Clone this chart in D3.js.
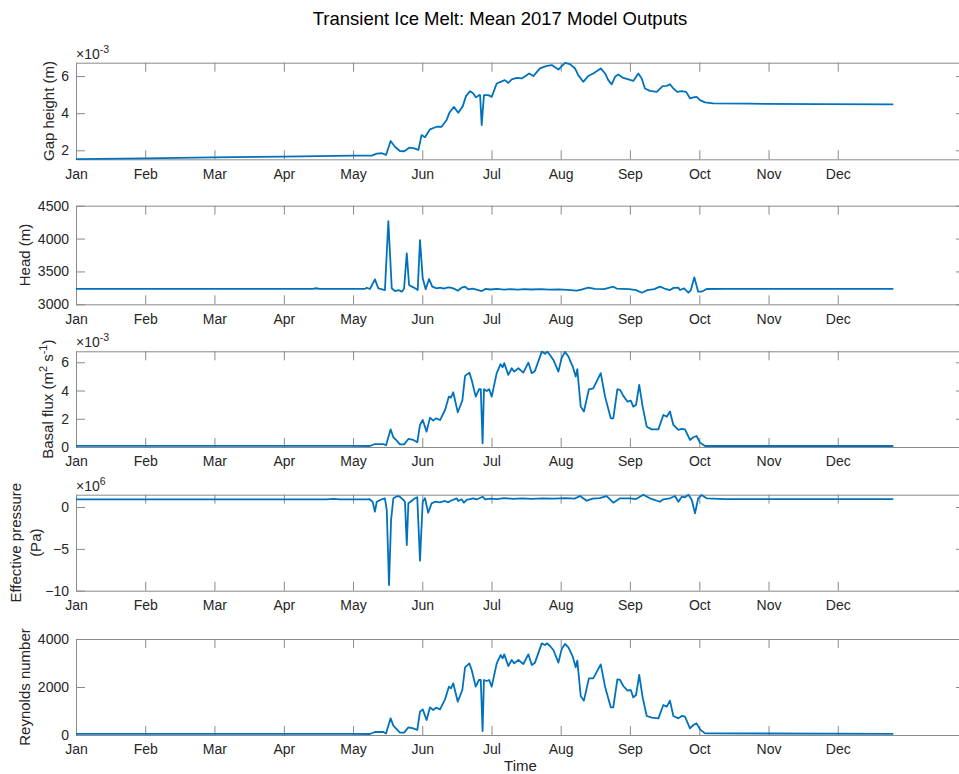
<!DOCTYPE html>
<html>
<head>
<meta charset="utf-8">
<script src="https://cdn.jsdelivr.net/npm/d3@7"></script>
<style>
  body { margin: 0; background: #fff; }
  svg { display: block; }
  text { font-family: "Liberation Sans", Arial, Helvetica, sans-serif; fill: #262626; }
</style>
</head>
<body>
<svg id="fig" width="959" height="774"></svg>
<script>
// Month tick labels and their positions (day of year)
const monthLabels = ["Jan", "Feb", "Mar", "Apr", "May", "Jun", "Jul", "Aug", "Sep", "Oct", "Nov", "Dec"];
const monthTickDays = [0, 30.4, 60.8, 91.3, 121.7, 152.1, 182.5, 212.9, 243.3, 273.8, 304.2, 334.6];

// Gap height (x 1e-3 m)
const gapDays = [0, 30, 60, 91, 121.7, 129.9, 132.1, 134.3, 136.2, 138.2, 140.1, 142.3, 144.2, 146.4, 148.2, 150.4,
  151.8, 153.3, 155.5, 158.4, 160.6, 162.8, 164.0, 166.0, 167.9, 169.9, 171.3, 173.1, 174.5, 175.7, 177.0, 177.5,
  178.2, 179.2, 181.1, 182.6, 184.8, 186.5, 188.4, 189.9, 191.4, 193.6, 195.8, 199.1, 200.9, 203.8, 206.8, 209.0,
  211.9, 214.8, 217.0, 219.2, 220.6, 222.8, 225.0, 227.2, 230.5, 232.4, 233.8, 235.3, 236.8, 238.2, 240.4, 242.6,
  244.8, 247.0, 248.5, 249.9, 252.1, 255.1, 257.7, 259.5, 260.9, 262.4, 264.1, 266.1, 268.0, 269.7, 271.2, 272.6,
  274.1, 276.3, 279.9, 296, 326.8, 359];
const gapValues = [1.52, 1.57, 1.62, 1.66, 1.71, 1.71, 1.82, 1.84, 1.75, 2.50, 2.19, 1.96, 1.95, 2.14, 2.12, 2.02,
  2.82, 2.70, 3.13, 3.27, 3.27, 3.63, 4.02, 4.34, 4.02, 4.38, 4.92, 5.19, 5.06, 4.85, 4.97, 4.97,
  3.36, 4.97, 4.97, 4.88, 5.60, 5.69, 5.78, 5.63, 5.82, 5.90, 5.87, 6.14, 6.00, 6.41, 6.55, 6.59,
  6.35, 6.71, 6.64, 6.41, 6.05, 5.69, 6.00, 6.14, 6.41, 6.14, 5.78, 5.55, 5.96, 6.09, 5.90, 5.82,
  5.74, 6.14, 5.87, 5.33, 5.20, 5.15, 5.46, 5.47, 5.56, 5.33, 5.15, 5.19, 5.15, 4.80, 4.85, 4.88,
  4.70, 4.58, 4.53, 4.51, 4.49, 4.47];

// Head (m)
const headDays = [0, 104, 105.5, 107, 127, 127.7, 129.1, 131.3, 132.8, 135.7, 137.2, 138.7, 140.1, 141.6, 143.1, 144.1,
  145.3, 146.3, 148.2, 150.1, 151.1, 152.3, 153.6, 155.1, 156.5, 158.4, 160, 161.5, 163.5, 165, 166.5, 167.7,
  169.4, 170.9, 172.3, 174, 176, 178.2, 180, 182, 185, 188, 191, 194, 197, 200, 204, 208, 212, 216, 219.9,
  222, 225, 228, 232, 236, 237.5, 240, 243, 246, 248.5, 251, 254, 256.5, 258.5, 260.9, 262.5, 264.6, 265.3,
  267.1, 269, 270.1, 271.6, 273.3, 274.8, 277, 285, 359];
const headValues = [3235, 3235, 3244, 3235, 3235, 3252, 3233, 3380, 3243, 3217, 4266, 3243, 3202, 3217, 3192, 3237,
  3775, 3293, 3258, 3217, 3977, 3395, 3228, 3385, 3268, 3243, 3255, 3240, 3258, 3250, 3230, 3207,
  3252, 3268, 3228, 3240, 3222, 3202, 3235, 3225, 3235, 3222, 3232, 3222, 3230, 3225, 3230, 3222, 3228, 3220, 3207,
  3225, 3252, 3235, 3230, 3268, 3240, 3235, 3230, 3215, 3176, 3215, 3232, 3268, 3240, 3217, 3250, 3252, 3217,
  3243, 3176, 3217, 3410, 3192, 3192, 3233, 3235, 3235];

// Basal flux (x 1e-3 m^2 s^-1)
const fluxDays = [0, 120, 129.1, 131.3, 135.0, 136.2, 138.2, 139.4, 140.9, 142.3, 144.1, 146.0, 148.2, 149.9, 151.1, 152.3,
  154.0, 155.5, 156.9, 158.1, 159.9, 162.1, 163.8, 164.7, 165.7, 167.7, 169.7, 170.9, 172.8, 173.8, 175.6, 177.0,
  177.8, 178.6, 179.2, 180.4, 181.5, 182.6, 184.8, 186.5, 187.4, 188.1, 189.9, 191.4, 192.5, 194.3, 196.5, 198.7,
  200.2, 201.6, 204.6, 206.0, 207.0, 208.2, 209.7, 211.9, 213.3, 214.8, 216.3, 218.2, 219.5, 220.2, 221.7, 223.1,
  225.3, 227.2, 230.5, 232.4, 234.9, 236.0, 237.8, 239.0, 240.4, 242.3, 243.7, 244.8, 246.0, 247.4, 248.9, 250.7,
  252.9, 255.8, 258.0, 259.5, 260.9, 262.4, 264.6, 266.1, 267.5, 269.7, 271.2, 272.6, 274.1, 276.3, 359];
const fluxValues = [0.08, 0.08, 0.07, 0.21, 0.21, 0.12, 1.25, 0.69, 0.45, 0.19, 0.19, 0.57, 0.50, 0.33, 1.56, 1.91,
  1.09, 2.08, 1.87, 2.03, 1.91, 2.62, 3.57, 3.50, 3.88, 2.46, 3.28, 5.04, 5.27, 4.75, 3.57, 4.09,
  4.09, 0.26, 4.09, 3.97, 4.09, 3.57, 5.23, 5.87, 5.65, 5.94, 5.11, 5.58, 5.34, 5.58, 5.27, 5.98,
  5.23, 5.39, 6.76, 6.60, 6.76, 6.52, 6.17, 5.34, 6.29, 6.74, 6.41, 5.70, 4.99, 5.51, 2.86, 2.51,
  4.09, 4.16, 5.23, 3.57, 2.03, 2.03, 4.09, 4.05, 3.62, 3.21, 3.28, 2.86, 2.98, 4.40, 2.86, 1.44,
  1.25, 1.25, 2.27, 2.15, 2.51, 1.56, 1.21, 1.28, 1.25, 0.50, 0.69, 0.78, 0.31, 0.07, 0.07];

// Effective pressure (x 1e6 Pa)
const effDays = [0, 110, 113, 116, 127.7, 128.8, 130.3, 131.3, 132.1, 134.3, 135.7, 136.5, 137.5, 138.4, 139.4, 140.6,
  141.6, 142.6, 143.8, 144.5, 145.3, 146.0, 147.5, 148.9, 149.9, 151.1, 152.3, 153.3, 154.7, 156.2, 157.7, 159.9,
  162.1, 163.5, 164.6, 167.2, 167.9, 169.4, 170.4, 171.6, 174.5, 176, 178.6, 179.7, 182, 185, 188, 192, 196, 200,
  205, 210, 215, 219, 221.4, 224.3, 227, 230, 233.1, 236.0, 239.0, 243.3, 246, 249.2, 252.1, 256.5, 258.0, 260.9,
  263.1, 264.6, 266.1, 267.5, 269.0, 270.5, 271.9, 273.3, 274.8, 277.0, 285, 359];
const effValues = [0.92, 0.92, 0.96, 0.92, 0.92, 0.95, 0.63, -0.56, 0.63, 0.92, 1.04, -0.36, -9.32, -1.55, 1.04, 1.23,
  1.31, 1.16, 0.84, 0.63, -4.54, 0.44, 0.75, 1.04, 1.16, -6.41, 0.63, 1.04, -0.68, 0.44, 0.63, 0.56,
  0.72, 0.56, 0.75, 1.04, 0.72, 0.92, 0.52, 0.84, 1.04, 0.90, 1.23, 0.92, 1.00, 0.95, 1.05, 0.98, 1.02, 0.98,
  1.02, 1.00, 1.05, 1.00, 1.31, 0.75, 1.00, 1.05, 1.31, 0.52, 1.04, 1.04, 0.95, 1.47, 1.04, 0.63, 0.92, 1.04,
  1.31, 0.63, 1.23, 1.16, 1.47, 0.84, -0.76, 1.04, 1.43, 1.04, 0.95, 0.95];

// Reynolds number
const reDays = fluxDays;
const reValues = [50, 50, 42, 125, 125, 69, 694, 389, 236, 97, 97, 319, 278, 208, 972, 1069,
  625, 1153, 1042, 1139, 1069, 1486, 2014, 1944, 2153, 1389, 1875, 2819, 2986, 2708, 2014, 2292,
  2292, 167, 2292, 2250, 2292, 2014, 2986, 3333, 3194, 3361, 2875, 3125, 2986, 3125, 2958, 3361,
  2917, 3014, 3819, 3750, 3819, 3708, 3542, 3014, 3569, 3792, 3653, 3264, 2819, 3097, 1625, 1431,
  2361, 2361, 2944, 2014, 1153, 1153, 2319, 2292, 2042, 1847, 1875, 1569, 1667, 2500, 1569, 792,
  722, 694, 1250, 1181, 1431, 792, 694, 792, 764, 278, 417, 486, 236, 69, 50];

// Y tick values per panel
const gapTicks = [2, 4, 6];
const headTicks = [3000, 3500, 4000, 4500];
const fluxTicks = [0, 2, 4, 6];
const effTicks = [-10, -5, 0];
const reTicks = [0, 2000, 4000];

const svg = d3.select("#fig");
const LEFT = 76, RIGHT = 965, TICK = 9;
const x = d3.scaleLinear().domain([0, 390.5]).range([LEFT, RIGHT]);

const panels = [
  { days: gapDays, values: gapValues, ticks: gapTicks, domain: [1.515, 6.72], top: 62.7, bottom: 159.3,
    exponent: "-3", label: [["Gap height (m)"]], labelX: [53.6] },
  { days: headDays, values: headValues, ticks: headTicks, domain: [3000, 4500], top: 205.7, bottom: 304.3,
    label: [["Head (m)"]], labelX: [30.4] },
  { days: fluxDays, values: fluxValues, ticks: fluxTicks, domain: [0, 6.78], top: 351.3, bottom: 447,
    exponent: "-3", label: [["Basal flux (m", "2", " s", "-1", ")"]], labelX: [53] },
  { days: effDays, values: effValues, ticks: effTicks, domain: [-10, 1.47], top: 494.7, bottom: 590.7,
    exponent: "6", label: [["Effective pressure"], ["(Pa)"]], labelX: [21.4, 41.4] },
  { days: reDays, values: reValues, ticks: reTicks, domain: [0, 4000], top: 639, bottom: 735,
    label: [["Reynolds number"]], labelX: [30.4] }
];

const axisColor = "#8a8a8a";
function styleAxis(sel) {
  sel.select(".domain").attr("stroke", axisColor).attr("stroke-width", 1);
  sel.selectAll(".tick line").attr("stroke", axisColor).attr("stroke-width", 1);
  sel.selectAll(".tick text").attr("fill", "#262626").attr("font-size", 14)
    .attr("font-family", '"Liberation Sans", Arial, Helvetica, sans-serif');
}

panels.forEach(p => {
  const y = d3.scaleLinear().domain(p.domain).range([p.bottom, p.top]);
  const g = svg.append("g");

  g.append("g").attr("transform", `translate(0,${p.bottom})`)
    .call(d3.axisBottom(x).tickValues(monthTickDays).tickFormat((d, i) => monthLabels[i])
      .tickSizeInner(-TICK).tickSizeOuter(0).tickPadding(9.5))
    .call(styleAxis);
  g.append("g").attr("transform", `translate(0,${p.top})`)
    .call(d3.axisTop(x).tickValues(monthTickDays).tickFormat("").tickSizeInner(-TICK).tickSizeOuter(0))
    .call(styleAxis);
  g.append("g").attr("transform", `translate(${LEFT},0)`)
    .call(d3.axisLeft(y).tickValues(p.ticks).tickFormat(d3.format("d")).tickSizeInner(-TICK).tickSizeOuter(0).tickPadding(7))
    .call(styleAxis);
  g.append("g").attr("transform", `translate(${RIGHT},0)`)
    .call(d3.axisRight(y).tickValues(p.ticks).tickFormat("").tickSizeInner(-TICK).tickSizeOuter(0))
    .call(styleAxis);

  // data line
  g.append("path")
    .datum(d3.zip(p.days, p.values))
    .attr("fill", "none")
    .attr("stroke", "#0072BD")
    .attr("stroke-width", 1.8)
    .attr("stroke-linejoin", "round")
    .attr("d", d3.line().x(d => x(d[0])).y(d => y(d[1])));

  // axis exponent
  if (p.exponent) {
    const t = g.append("text").attr("x", LEFT).attr("y", p.top - 4).attr("font-size", 14);
    t.append("tspan").text("×10");
    t.append("tspan").attr("dy", -6).attr("font-size", 10.5).text(p.exponent);
  }

  // y label(s)
  const cy = (p.top + p.bottom) / 2;
  p.label.forEach((parts, li) => {
    const t = g.append("text")
      .attr("transform", `translate(${p.labelX[li]},${cy}) rotate(-90)`)
      .attr("text-anchor", "middle")
      .attr("font-size", 15);
    if (parts.length === 1) {
      t.text(parts[0]);
    } else {
      t.append("tspan").text(parts[0]);
      t.append("tspan").attr("dy", -6).attr("font-size", 11).text(parts[1]);
      t.append("tspan").attr("dy", 6).text(parts[2]);
      t.append("tspan").attr("dy", -6).attr("font-size", 11).text(parts[3]);
      t.append("tspan").attr("dy", 6).text(parts[4]);
    }
  });
});

// figure title and shared x label
svg.append("text").attr("x", 500).attr("y", 25).attr("text-anchor", "middle")
  .attr("font-size", 18.5).style("fill", "#000")
  .text("Transient Ice Melt: Mean 2017 Model Outputs");
svg.append("text").attr("x", 520.5).attr("y", 771).attr("text-anchor", "middle")
  .attr("font-size", 15).text("Time");
</script>
</body>
</html>
